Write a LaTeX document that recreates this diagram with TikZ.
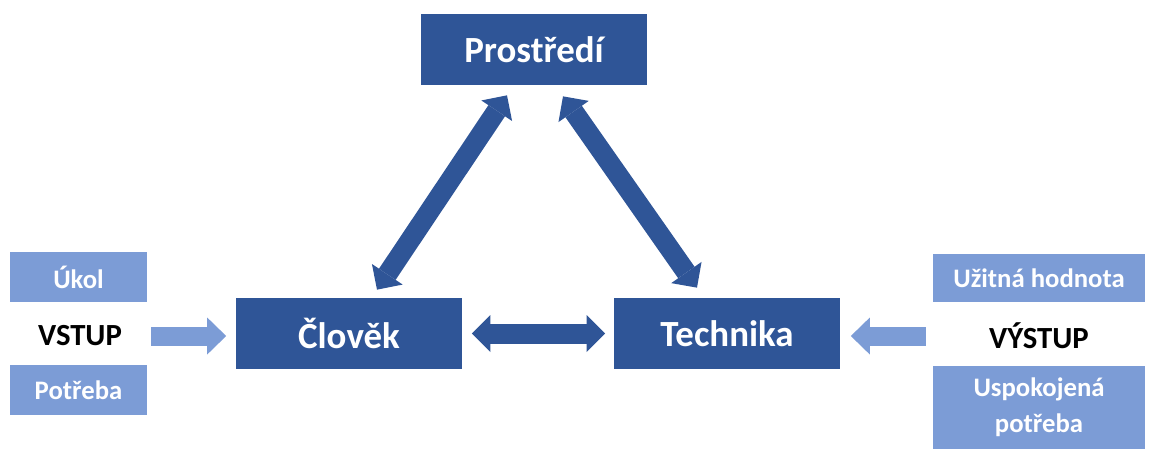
\documentclass[tikz,border=0pt]{standalone}
\usepackage{fontspec}
\setmainfont{Carlito}
\usepackage{tikz}
\usetikzlibrary{arrows.meta, positioning, calc}
\definecolor{darkblue}{HTML}{2F5597}
\definecolor{lightblue}{HTML}{7C9CD6}

\begin{document}
\begin{tikzpicture}[
  x=0.02cm, y=-0.02cm,
  every node/.style={font=\bfseries},
  mainbox/.style={rectangle, fill=darkblue, text=white, text centered, minimum height=1.42cm, minimum width=4.54cm, inner sep=0pt, font=\fontsize{21}{25}\selectfont\bfseries},
  sidebox/.style={rectangle, fill=lightblue, text=white, align=center, minimum height=1.0cm, inner sep=0pt, font=\fontsize{15.2}{20.5}\selectfont\bfseries},
  sidelabel/.style={rectangle, text=black, text centered, inner sep=0pt, minimum height=1.0cm, font=\fontsize{17.5}{21}\selectfont\bfseries},
  biarr/.style={draw=darkblue, line width=0.4cm, {Triangle[length=0.37cm, width=0.74cm, line width=0pt]}-{Triangle[length=0.37cm, width=0.74cm, line width=0pt]}},
  inarr/.style={draw=lightblue, line width=0.38cm, -{Triangle[length=0.38cm, width=0.74cm, line width=0pt]}},
]
\useasboundingbox (0,0) rectangle (1149,450);

%% Main boxes
\node[mainbox] (prostredi) at (534,49.5)  {Prostředí};
\node[mainbox] (clovek)    at (349,333.5) {Člověk};
\node[mainbox] (technika)  at (727,333.5) {Technika};

%% Input side
\node[sidebox, minimum width=2.74cm] (ukol)    at (78.5,277) {Úkol};
\node[sidelabel, minimum width=2.74cm] (vstup) at (80,336) {VSTUP};
\node[sidebox, minimum width=2.74cm] (potreba) at (78.5,390) {Potřeba};

%% Output side
\node[sidebox, minimum width=4.24cm, minimum height=0.96cm] (uzitna) at (1039,278) {Užitná hodnota};
\node[sidelabel, minimum width=4.24cm] (vystup) at (1039,336) {VÝSTUP};
\node[sidebox, minimum width=4.24cm, minimum height=1.66cm] (uspokojena) at (1039,407.5) {Uspokojená\\potřeba};

%% Arrows
\draw[biarr] ($(clovek.north)+(28,-8)$) -- ($(prostredi.south)+(-27,10)$);
\draw[biarr] ($(technika.north)+(-30,-10)$) -- ($(prostredi.south)+(29,11)$);
\draw[biarr, shorten <=0.18cm, shorten >=0.16cm] (clovek.east) -- (technika.west);
\draw[inarr, shorten <=0.05cm, shorten >=0.18cm] (vstup.east) -- (vstup.east -| clovek.west);
\draw[inarr, shorten <=0.14cm, shorten >=0.2cm] (vystup.west) -- (vystup.west -| technika.east);

\end{tikzpicture}
\end{document}
